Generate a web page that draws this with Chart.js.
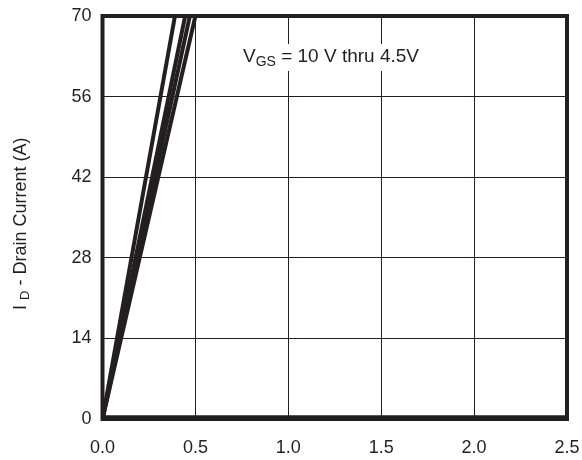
<!DOCTYPE html>
<html lang="en">
<head>
    <meta charset="UTF-8">
    <title>Drain Current vs Vds</title>
    <style>
        body {
            margin: 0;
            background: #fff;
        }
        #chart-container {
            width: 582px;
            height: 460px;
        }
    </style>
    <script src="https://cdn.jsdelivr.net/npm/chart.js"></script>
</head>
<body>
    <div id="chart-container">
        <canvas id="id-chart"></canvas>
    </div>

    <script>
        // axis ticks
        const xTicks = [0, 0.5, 1.0, 1.5, 2.0, 2.5];
        const yTicks = [0, 14, 28, 42, 56, 70];

        // output curves, VGS = 10 V thru 4.5 V
        const curveVds = [
            [0, 0.39],
            [0, 0.445],
            [0, 0.47],
            [0, 0.50]
        ];
        const curveId = [
            [0, 70],
            [0, 70],
            [0, 70],
            [0, 70]
        ];

        // curve sitting on the bottom axis
        const lowVds = [0, 2.5];
        const lowId = [0.3, 0.3];

        const ink = '#231f20';
        const fontFamily = '"Liberation Sans", Arial, sans-serif';

        function toPoints(xs, ys) {
            return xs.map((x, i) => ({ x: x, y: ys[i] }));
        }

        const datasets = curveVds.map((xs, i) => ({
            data: toPoints(xs, curveId[i]),
            borderColor: ink,
            borderWidth: 4,
            pointRadius: 0,
            tension: 0
        }));
        datasets.push({
            data: toPoints(lowVds, lowId),
            borderColor: ink,
            borderWidth: 4,
            pointRadius: 0
        });

        // frame, label inside the plot and the y title with subscripts
        const decorations = {
            id: 'decorations',
            afterDraw(chart) {
                const ctx = chart.ctx;
                const a = chart.chartArea;
                ctx.save();

                // V_GS = 10 V thru 4.5V, on a white patch that cuts the grid
                let x = 243, y = 62;
                ctx.font = '19px ' + fontFamily;
                const w1 = ctx.measureText('V').width;
                const w3 = ctx.measureText(' = 10 V thru 4.5V').width;
                ctx.font = '14px ' + fontFamily;
                const w2 = ctx.measureText('GS').width;
                ctx.fillStyle = '#fff';
                ctx.fillRect(x - 3, y - 18, w1 + w2 + w3 + 6, 27);

                ctx.fillStyle = ink;
                ctx.textBaseline = 'alphabetic';
                ctx.textAlign = 'left';
                ctx.font = '19px ' + fontFamily;
                ctx.fillText('V', x, y);
                x += w1;
                ctx.font = '14px ' + fontFamily;
                ctx.fillText('GS', x, y + 4);
                x += w2;
                ctx.font = '19px ' + fontFamily;
                ctx.fillText(' = 10 V thru 4.5V', x, y);

                ctx.strokeStyle = ink;
                ctx.lineWidth = 4;
                ctx.strokeRect(a.left, a.top, a.right - a.left, a.bottom - a.top);

                // I_D - Drain Current (A)
                ctx.translate(26, 310);
                ctx.rotate(-Math.PI / 2);
                let t = 0;
                ctx.font = '18px ' + fontFamily;
                ctx.fillText('I ', t, 0);
                t += ctx.measureText('I ').width;
                ctx.font = '13px ' + fontFamily;
                ctx.fillText('D', t, 3);
                t += ctx.measureText('D').width;
                ctx.font = '18px ' + fontFamily;
                ctx.fillText(' - Drain Current (A)', t, 0);
                ctx.restore();
            }
        };

        const ctx = document.getElementById('id-chart').getContext('2d');
        const idChart = new Chart(ctx, {
            type: 'line',
            data: { datasets: datasets },
            options: {
                responsive: true,
                maintainAspectRatio: false,
                animation: false,
                devicePixelRatio: 1,
                layout: {
                    padding: { top: 16, right: 15, bottom: 0, left: 0 }
                },
                plugins: {
                    legend: { display: false },
                    tooltip: { enabled: false }
                },
                scales: {
                    x: {
                        type: 'linear',
                        min: xTicks[0],
                        max: xTicks[xTicks.length - 1],
                        afterBuildTicks(scale) {
                            scale.ticks = xTicks.map(v => ({ value: v }));
                        },
                        afterFit(scale) {
                            scale.height = 41;
                            scale.paddingLeft = 0;
                            scale.paddingRight = 0;
                        },
                        grid: { color: ink, lineWidth: 1, drawTicks: false },
                        border: { display: false },
                        ticks: {
                            color: ink,
                            padding: 18,
                            font: { family: fontFamily, size: 18 },
                            callback: v => Number(v).toFixed(1)
                        }
                    },
                    y: {
                        min: yTicks[0],
                        max: yTicks[yTicks.length - 1],
                        afterBuildTicks(scale) {
                            scale.ticks = yTicks.map(v => ({ value: v }));
                        },
                        afterFit(scale) {
                            scale.width = 102.5;
                            scale.paddingTop = 0;
                            scale.paddingBottom = 0;
                        },
                        grid: { color: ink, lineWidth: 1, drawTicks: false },
                        border: { display: false },
                        ticks: {
                            color: ink,
                            padding: 11,
                            font: { family: fontFamily, size: 18 }
                        }
                    }
                }
            },
            plugins: [decorations]
        });
    </script>
</body>
</html>
